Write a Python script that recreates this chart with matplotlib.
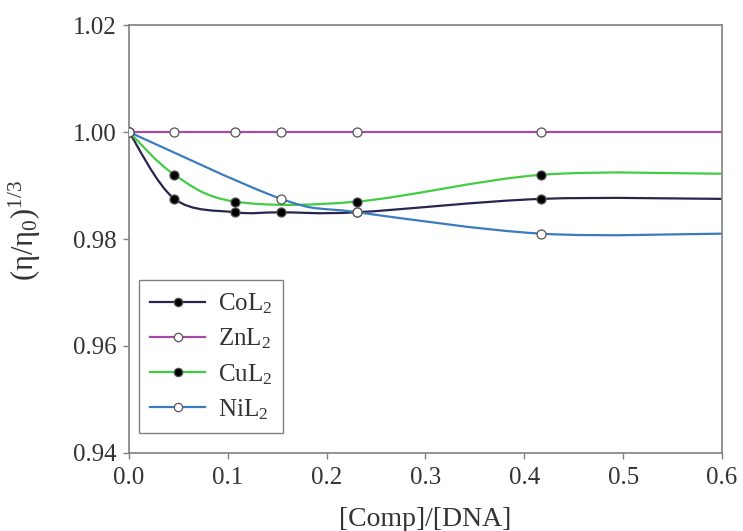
import matplotlib
matplotlib.use("Agg")
import matplotlib.pyplot as plt
from matplotlib.path import Path
from matplotlib.patches import PathPatch
import numpy as np

plt.rcParams["font.family"] = ["Liberation Serif", "DejaVu Serif"]
plt.rcParams["mathtext.fontset"] = "custom"
plt.rcParams["mathtext.rm"] = "Liberation Serif"
plt.rcParams["mathtext.it"] = "Liberation Serif:italic"

# Data (last point of each series has no marker)
co_x = [0.0, 0.046, 0.107, 0.154, 0.231, 0.417, 0.6]
co_y = [1.000, 0.9875, 0.985, 0.985, 0.985, 0.9875, 0.9875]

zn_x = [0.0, 0.046, 0.107, 0.154, 0.231, 0.417, 0.6]
zn_y = [1.000, 1.000, 1.000, 1.000, 1.000, 1.000, 1.000]

cu_x = [0.0, 0.046, 0.107, 0.231, 0.417, 0.6]
cu_y = [1.000, 0.992, 0.987, 0.987, 0.992, 0.9922]

ni_x = [0.0, 0.154, 0.231, 0.417, 0.6]
ni_y = [1.000, 0.9875, 0.985, 0.981, 0.981]

series = [
    ("CoL$_2$", co_x, co_y, "#26264f", "black"),
    ("ZnL$_2$", zn_x, zn_y, "#a64ca6", "white"),
    ("CuL$_2$", cu_x, cu_y, "#44cc44", "black"),
    ("NiL$_2$", ni_x, ni_y, "#3b7cc0", "white"),
]


def smooth_path(xs, ys):
    # spreadsheet-style smoothed line: cubic Bezier through each point
    p = np.column_stack([xs, ys])
    n = len(p)
    verts = [p[0]]
    codes = [Path.MOVETO]
    for i in range(n - 1):
        prev = p[i - 1] if i > 0 else p[i]
        nxt = p[i + 2] if i + 2 < n else p[i + 1]
        c1 = p[i] + (p[i + 1] - prev) / 6.0
        c2 = p[i + 1] - (nxt - p[i]) / 6.0
        verts += [c1, c2, p[i + 1]]
        codes += [Path.CURVE4] * 3
    return Path(verts, codes)


fig = plt.figure(figsize=(7.43, 5.31), dpi=100)
ax = fig.add_axes([0.1736, 0.1469, 0.7981, 0.806])

for label, xs, ys, color, face in series:
    ax.add_patch(PathPatch(smooth_path(xs, ys), facecolor="none",
                           edgecolor=color, lw=1.6, zorder=2))
    ax.plot(xs[:-1], ys[:-1], ls="none", marker="o", ms=6.5,
            mfc=face, mec="#555555", mew=0.9, zorder=3)
    ax.plot([], [], color=color, lw=1.6, marker="o", ms=6,
            mfc=face, mec="#555555", mew=0.9, label=label)

ax.set_xlim(0, 0.6)
ax.set_ylim(0.94, 1.02)
ax.set_xticks(np.arange(0, 0.61, 0.1))
ax.set_yticks(np.arange(0.94, 1.021, 0.02))
ax.xaxis.set_major_formatter(plt.FormatStrFormatter("%.1f"))
ax.yaxis.set_major_formatter(plt.FormatStrFormatter("%.2f"))
ax.tick_params(direction="out", length=4, width=1, color="#808080",
               labelsize=18, pad=5, labelcolor="#333333")
ax.tick_params(axis="x", pad=6)
for s in ax.spines.values():
    s.set_color("#808080")
    s.set_linewidth(1.2)

ax.set_xlabel("[Comp]/[DNA]", fontsize=20, labelpad=13, color="#333333")
ax.set_ylabel("(η/η$_0$)$^{1/3}$", fontsize=22, color="#333333")
ax.yaxis.set_label_coords(-0.145, 0.52)

leg = ax.legend(loc="lower left", bbox_to_anchor=(0.017, 0.047),
                borderaxespad=0, fontsize=18, handlelength=2.2,
                handletextpad=0.5, labelspacing=0.42, borderpad=0.45,
                fancybox=False, framealpha=1)
for t in leg.get_texts():
    t.set_color("#333333")
leg.get_frame().set_edgecolor("#808080")
leg.get_frame().set_linewidth(1.0)

fig.savefig("out.png", dpi=100)
